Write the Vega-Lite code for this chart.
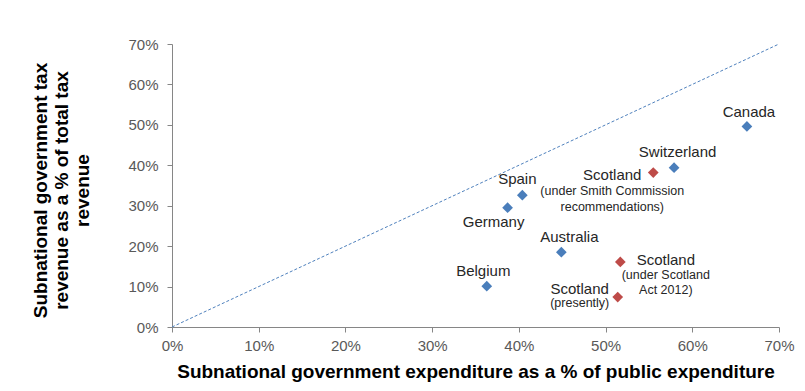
{
  "$schema": "https://vega.github.io/schema/vega-lite/v6.json",
  "width": 607,
  "height": 283,
  "autosize": {"type": "none"},
  "padding": {"left": 172, "top": 44, "right": 26, "bottom": 64},
  "background": "white",
  "config": {
    "view": {"stroke": null},
    "font": "Liberation Sans",
    "axis": {
      "grid": false,
      "domainColor": "#868686",
      "tickColor": "#868686",
      "tickSize": 5,
      "labelFlush": false,
      "labelFont": "Liberation Sans",
      "labelFontSize": 15,
      "labelColor": "#595959",
      "titleFont": "Liberation Sans",
      "titleFontSize": 19,
      "titleFontWeight": "bold",
      "titleColor": "#000000"
    }
  },
  "data": {
    "values": [
      {"id": "Canada", "name": "Canada", "group": "Country", "note": "", "expenditure": 66.3, "tax": 49.6},
      {"id": "Switzerland", "name": "Switzerland", "group": "Country", "note": "", "expenditure": 57.9, "tax": 39.4},
      {"id": "Spain", "name": "Spain", "group": "Country", "note": "", "expenditure": 40.4, "tax": 32.6},
      {"id": "Germany", "name": "Germany", "group": "Country", "note": "", "expenditure": 38.7, "tax": 29.5},
      {"id": "Australia", "name": "Australia", "group": "Country", "note": "", "expenditure": 44.9, "tax": 18.5},
      {"id": "Belgium", "name": "Belgium", "group": "Country", "note": "", "expenditure": 36.3, "tax": 10.1},
      {"id": "ScotlandSmith", "name": "Scotland", "group": "Scotland", "note": "(under Smith Commission\nrecommendations)", "expenditure": 55.5, "tax": 38.2},
      {"id": "ScotlandAct", "name": "Scotland", "group": "Scotland", "note": "(under Scotland\nAct 2012)", "expenditure": 51.7, "tax": 16.1},
      {"id": "ScotlandNow", "name": "Scotland", "group": "Scotland", "note": "(presently)", "expenditure": 51.4, "tax": 7.4}
    ]
  },
  "layer": [
    {
      "data": {"values": [{}]},
      "mark": {"type": "rule", "color": "#4F81BD", "strokeWidth": 1, "strokeDash": [3, 2]},
      "encoding": {
        "x": {"datum": 0, "type": "quantitative", "scale": {"domain": [0, 70], "nice": false}},
        "y": {"datum": 0, "type": "quantitative", "scale": {"domain": [0, 70], "nice": false}},
        "x2": {"datum": 70},
        "y2": {"datum": 70}
      }
    },
    {
      "mark": {"type": "point", "shape": "diamond", "filled": true, "size": 115, "opacity": 1},
      "encoding": {
        "x": {
          "field": "expenditure", "type": "quantitative",
          "scale": {"domain": [0, 70], "nice": false},
          "axis": {
            "values": [0, 10, 20, 30, 40, 50, 60, 70],
            "labelExpr": "datum.value + '%'",
            "labelPadding": 6,
            "title": "Subnational government expenditure as a % of public expenditure",
            "titlePadding": 9
          }
        },
        "y": {
          "field": "tax", "type": "quantitative",
          "scale": {"domain": [0, 70], "nice": false},
          "axis": {
            "values": [0, 10, 20, 30, 40, 50, 60, 70],
            "labelExpr": "datum.value + '%'",
            "labelPadding": 9,
            "title": ["Subnational government tax", "revenue as a % of total tax", "revenue"],
            "titleLineHeight": 21,
            "titleAlign": "center",
            "titleBaseline": "middle",
            "titleX": -132,
            "titleY": 146
          }
        },
        "color": {
          "field": "group", "type": "nominal",
          "scale": {"domain": ["Country", "Scotland"], "range": ["#4A7EBB", "#BE4B48"]},
          "legend": null
        }
      }
    },
    {
      "transform": [{"filter": "datum.id === 'Canada'"}],
      "mark": {"type": "text", "font": "Liberation Sans", "fontSize": 15, "color": "#262626", "baseline": "middle", "dx": 2, "dy": -14},
      "encoding": {"x": {"field": "expenditure", "type": "quantitative"}, "y": {"field": "tax", "type": "quantitative"}, "text": {"field": "name"}}
    },
    {
      "transform": [{"filter": "datum.id === 'Switzerland'"}],
      "mark": {"type": "text", "font": "Liberation Sans", "fontSize": 15, "color": "#262626", "baseline": "middle", "dx": 3.5, "dy": -16},
      "encoding": {"x": {"field": "expenditure", "type": "quantitative"}, "y": {"field": "tax", "type": "quantitative"}, "text": {"field": "name"}}
    },
    {
      "transform": [{"filter": "datum.id === 'Spain'"}],
      "mark": {"type": "text", "font": "Liberation Sans", "fontSize": 15, "color": "#262626", "baseline": "middle", "dx": -5, "dy": -16},
      "encoding": {"x": {"field": "expenditure", "type": "quantitative"}, "y": {"field": "tax", "type": "quantitative"}, "text": {"field": "name"}}
    },
    {
      "transform": [{"filter": "datum.id === 'Germany'"}],
      "mark": {"type": "text", "font": "Liberation Sans", "fontSize": 15, "color": "#262626", "baseline": "middle", "dx": -14, "dy": 14},
      "encoding": {"x": {"field": "expenditure", "type": "quantitative"}, "y": {"field": "tax", "type": "quantitative"}, "text": {"field": "name"}}
    },
    {
      "transform": [{"filter": "datum.id === 'Australia'"}],
      "mark": {"type": "text", "font": "Liberation Sans", "fontSize": 15, "color": "#262626", "baseline": "middle", "dx": 8, "dy": -15.5},
      "encoding": {"x": {"field": "expenditure", "type": "quantitative"}, "y": {"field": "tax", "type": "quantitative"}, "text": {"field": "name"}}
    },
    {
      "transform": [{"filter": "datum.id === 'Belgium'"}],
      "mark": {"type": "text", "font": "Liberation Sans", "fontSize": 15, "color": "#262626", "baseline": "middle", "dx": -3.5, "dy": -15.5},
      "encoding": {"x": {"field": "expenditure", "type": "quantitative"}, "y": {"field": "tax", "type": "quantitative"}, "text": {"field": "name"}}
    },
    {
      "transform": [{"filter": "datum.id === 'ScotlandSmith'"}],
      "mark": {"type": "text", "font": "Liberation Sans", "fontSize": 15, "color": "#262626", "baseline": "middle", "dx": -41, "dy": 2},
      "encoding": {"x": {"field": "expenditure", "type": "quantitative"}, "y": {"field": "tax", "type": "quantitative"}, "text": {"field": "name"}}
    },
    {
      "transform": [{"filter": "datum.id === 'ScotlandSmith'"}],
      "mark": {"type": "text", "font": "Liberation Sans", "fontSize": 12.5, "color": "#262626", "baseline": "top", "lineBreak": "\n", "lineHeight": 15.5, "dx": -41, "dy": 12.5},
      "encoding": {"x": {"field": "expenditure", "type": "quantitative"}, "y": {"field": "tax", "type": "quantitative"}, "text": {"field": "note"}}
    },
    {
      "transform": [{"filter": "datum.id === 'ScotlandAct'"}],
      "mark": {"type": "text", "font": "Liberation Sans", "fontSize": 15, "color": "#262626", "baseline": "middle", "dx": 45.5, "dy": -2},
      "encoding": {"x": {"field": "expenditure", "type": "quantitative"}, "y": {"field": "tax", "type": "quantitative"}, "text": {"field": "name"}}
    },
    {
      "transform": [{"filter": "datum.id === 'ScotlandAct'"}],
      "mark": {"type": "text", "font": "Liberation Sans", "fontSize": 12.5, "color": "#262626", "baseline": "top", "lineBreak": "\n", "lineHeight": 15.5, "dx": 45.5, "dy": 7},
      "encoding": {"x": {"field": "expenditure", "type": "quantitative"}, "y": {"field": "tax", "type": "quantitative"}, "text": {"field": "note"}}
    },
    {
      "transform": [{"filter": "datum.id === 'ScotlandNow'"}],
      "mark": {"type": "text", "font": "Liberation Sans", "fontSize": 15, "color": "#262626", "baseline": "middle", "dx": -38, "dy": -8},
      "encoding": {"x": {"field": "expenditure", "type": "quantitative"}, "y": {"field": "tax", "type": "quantitative"}, "text": {"field": "name"}}
    },
    {
      "transform": [{"filter": "datum.id === 'ScotlandNow'"}],
      "mark": {"type": "text", "font": "Liberation Sans", "fontSize": 12.5, "color": "#262626", "baseline": "top", "lineBreak": "\n", "lineHeight": 15.5, "dx": -38, "dy": 0},
      "encoding": {"x": {"field": "expenditure", "type": "quantitative"}, "y": {"field": "tax", "type": "quantitative"}, "text": {"field": "note"}}
    }
  ]
}
